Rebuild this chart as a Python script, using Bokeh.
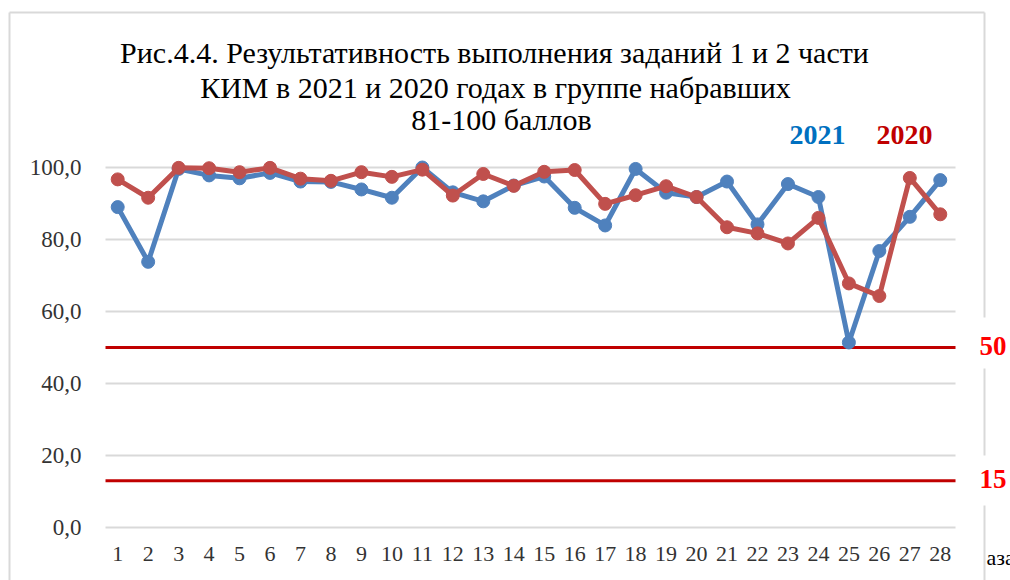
from bokeh.plotting import figure
from bokeh.models import Range1d, Label, ColumnDataSource
from bokeh.core.properties import value
from bokeh.embed import file_html
from bokeh.resources import INLINE

# ---- data ----
tasks = list(range(1, 29))
x_tick_labels = [str(t) for t in tasks]
y2021 = [89.0, 73.8, 99.6, 97.8, 97.0, 98.5, 96.1, 96.0, 93.9, 91.6, 100.0, 93.1, 90.6, 95.0,
         97.5, 88.8, 83.9, 99.6, 93.0, 91.8, 96.1, 84.2, 95.4, 91.8, 51.4, 76.8, 86.3, 96.5]
y2020 = [96.7, 91.6, 99.9, 99.8, 98.7, 99.9, 96.9, 96.3, 98.7, 97.4, 99.4, 92.2, 98.2, 94.9,
         98.8, 99.3, 89.9, 92.3, 94.8, 91.8, 83.4, 81.7, 78.9, 86.0, 67.8, 64.3, 97.1, 87.0]
y_ticks = [0, 20, 40, 60, 80, 100]
y_tick_labels = ["0,0", "20,0", "40,0", "60,0", "80,0", "100,0"]
thresholds = [50, 13]
threshold_labels = ["50", "15"]
series_names = ["2021", "2020"]
title_lines = ["Рис.4.4. Результативность выполнения заданий 1 и 2 части",
               "КИМ в 2021 и 2020 годах в группе набравших",
               "81-100 баллов"]

# ---- layout (pixel geometry of the canvas) ----
W, H = 1010, 580
PXX = 850 / 27.9          # pixels per category
PXY = 3.6                 # pixels per percent
X0 = 1 - 117.2 / PXX      # data x at canvas left
Y_TOP = 100 + 167 / PXY   # data y at canvas top
GX0, GX1 = 0.6, 28.5      # horizontal extent of the plot area


def dx(px):
    return X0 + px / PXX


def dy(py):
    return Y_TOP - py / PXY


p = figure(width=W, height=H, output_backend="svg", toolbar_location=None,
           x_range=Range1d(dx(0), dx(W)), y_range=Range1d(dy(H), dy(0)),
           min_border=0, x_axis_type=None, y_axis_type=None)
p.outline_line_color = None
p.background_fill_color = "white"
p.border_fill_color = "white"
p.grid.visible = False

font = "Liberation Serif"

# chart border (light grey frame, broken at the right-hand labels)
border_col = "#D9D9D9"
p.segment(x0=[dx(9)], x1=[dx(984)], y0=[dy(12)], y1=[dy(12)], line_color=border_col, line_width=2)
p.segment(x0=[dx(9)], x1=[dx(9)], y0=[dy(12)], y1=[dy(H)], line_color=border_col, line_width=2)
p.segment(x0=[dx(984)] * 3, x1=[dx(984)] * 3,
          y0=[dy(12), dy(368), dy(505)], y1=[dy(317), dy(455), dy(H)],
          line_color=border_col, line_width=2)

# horizontal grid lines at the y ticks
p.segment(x0=GX0, x1=GX1, y0=y_ticks, y1=y_ticks, line_color="#D9D9D9", line_width=2)

# y tick labels
p.text(x=dx(81), y=y_ticks, text=y_tick_labels, text_font=value(font), text_font_size="23px",
       text_align="right", text_baseline="middle", text_color="#333333")
# x tick labels
p.text(x=tasks, y=dy(553), text=x_tick_labels, text_font=value(font), text_font_size="22px",
       text_align="center", text_baseline="middle", text_color="#333333")

# threshold lines
p.segment(x0=GX0, x1=GX1, y0=thresholds, y1=thresholds, line_color="#C00000", line_width=3)

# series
src = ColumnDataSource(dict(x=tasks, a=y2021, b=y2020))
p.line("x", "a", source=src, line_color="#4F81BD", line_width=5)
p.scatter("x", "a", source=src, size=13, fill_color="#4F81BD", line_color="#4F81BD")
p.line("x", "b", source=src, line_color="#C0504D", line_width=5)
p.scatter("x", "b", source=src, size=13, fill_color="#C0504D", line_color="#C0504D")

# title
for line, py, px in zip(title_lines, [52, 87, 119], [494, 495, 501]):
    p.add_layout(Label(x=dx(px), y=dy(py), text=line, text_font=font,
                       text_font_size="30px", text_align="center", text_baseline="middle",
                       text_color="#000000"))

# series labels
for name, px, col in zip(series_names, [789, 876], ["#0070C0", "#C00000"]):
    p.add_layout(Label(x=dx(px), y=dy(134), text=name, text_font=font, text_font_size="28px",
                       text_font_style="bold", text_align="left", text_baseline="middle",
                       text_color=col))

# threshold labels
for t, lab in zip(thresholds, threshold_labels):
    p.add_layout(Label(x=dx(979), y=t, y_offset=2, text=lab, text_font=font,
                       text_font_size="27px", text_font_style="bold", text_align="left",
                       text_baseline="middle", text_color="#FF0000"))

# fragment of the surrounding document text
p.add_layout(Label(x=dx(986), y=dy(557), text="аза", text_font=font, text_font_size="22px",
                   text_align="left", text_baseline="middle", text_color="#000000"))

open("out.html", "w").write(file_html(p, INLINE))
